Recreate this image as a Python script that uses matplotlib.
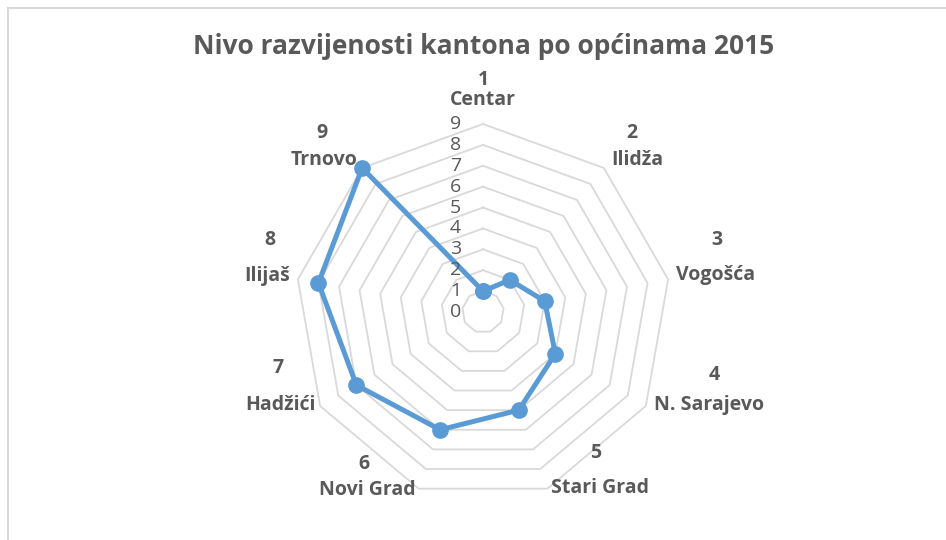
import numpy as np
import matplotlib
matplotlib.use("Agg")
import matplotlib.pyplot as plt
from matplotlib.lines import Line2D
from matplotlib.transforms import offset_copy

# Municipality ranks in the canton, 2015
categories = ["Centar", "Ilidža", "Vogošća", "N. Sarajevo", "Stari Grad",
              "Novi Grad", "Hadžići", "Ilijaš", "Trnovo"]
category_numbers = ["1", "2", "3", "4", "5", "6", "7", "8", "9"]
values = [1, 2, 3, 4, 5, 6, 7, 8, 9]
r_ticks = [0, 1, 2, 3, 4, 5, 6, 7, 8, 9]

title = "Nivo razvijenosti kantona po općinama 2015"

plt.rcParams["font.family"] = ["Open Sans", "DejaVu Sans"]
TEXT = "#595959"
GRID = "#d9d9d9"
LINE = "#5b9bd5"

W, H = 946, 540
fig = plt.figure(figsize=(W / 100, H / 100), dpi=100)

# chart-area frame (top and left edges visible)
fig.add_artist(Line2D([7.5 / W, 7.5 / W], [0, 1 - 8 / H], color=GRID, lw=1.5,
                      transform=fig.transFigure))
fig.add_artist(Line2D([7.5 / W, 1], [1 - 8 / H, 1 - 8 / H], color=GRID, lw=1.5,
                      transform=fig.transFigure))

fig.text(484 / W, 1 - 46 / H, title, ha="center", va="center",
         fontsize=19, fontweight="bold", color=TEXT)

cx, cy, R = 483, 312, 188
ax = fig.add_axes([(cx - R) / W, (H - cy - R) / H, 2 * R / W, 2 * R / H],
                  projection="polar")
ax.set_theta_zero_location("N")
ax.set_theta_direction(-1)
ax.set_ylim(0, r_ticks[-1])
ax.grid(False)
ax.spines["polar"].set_visible(False)
ax.set_xticks([])
ax.set_yticks([])
ax.patch.set_alpha(0)

n = len(categories)
theta = np.arange(n) * 2 * np.pi / n
theta_closed = np.append(theta, theta[0])

# polygonal grid rings
for r in r_ticks[1:]:
    ax.plot(theta_closed, [r] * (n + 1), color=GRID, lw=1.3, zorder=1,
            clip_on=False)

# data series
vals_closed = values + values[:1]
ax.plot(theta_closed, vals_closed, color=LINE, lw=3.6, zorder=3,
        solid_joinstyle="round", solid_capstyle="round", clip_on=False,
        marker="o", markersize=11, markerfacecolor=LINE, markeredgecolor=LINE)

# radial value labels to the left of the top spoke
tick_tf = offset_copy(ax.transData, fig=fig, x=-22, y=0, units="dots")
for r in r_ticks:
    ax.text(0, r, str(r), transform=tick_tf, ha="right", va="center",
            fontsize=14, color=TEXT, zorder=4)

# category labels: (number, name) centres in pixels
num_pos = [(483, 80), (632, 133), (717, 240), (714, 375), (596, 453),
           (364, 464), (278, 368), (270, 240), (322, 133)]
name_pos = [(483, 100), (637, 160), (716, 275), (709, 405), (600, 488),
            (367, 490), (280, 405), (267, 276), (324, 160)]
for num, name, (nx, ny), (mx, my) in zip(category_numbers, categories,
                                          num_pos, name_pos):
    fig.text(nx / W, 1 - ny / H, num, ha="center", va="center",
             fontsize=14, fontweight="bold", color=TEXT)
    fig.text(mx / W, 1 - my / H, name, ha="center", va="center",
             fontsize=14, fontweight="bold", color=TEXT)

fig.savefig("out.png", dpi=100, facecolor="white")
